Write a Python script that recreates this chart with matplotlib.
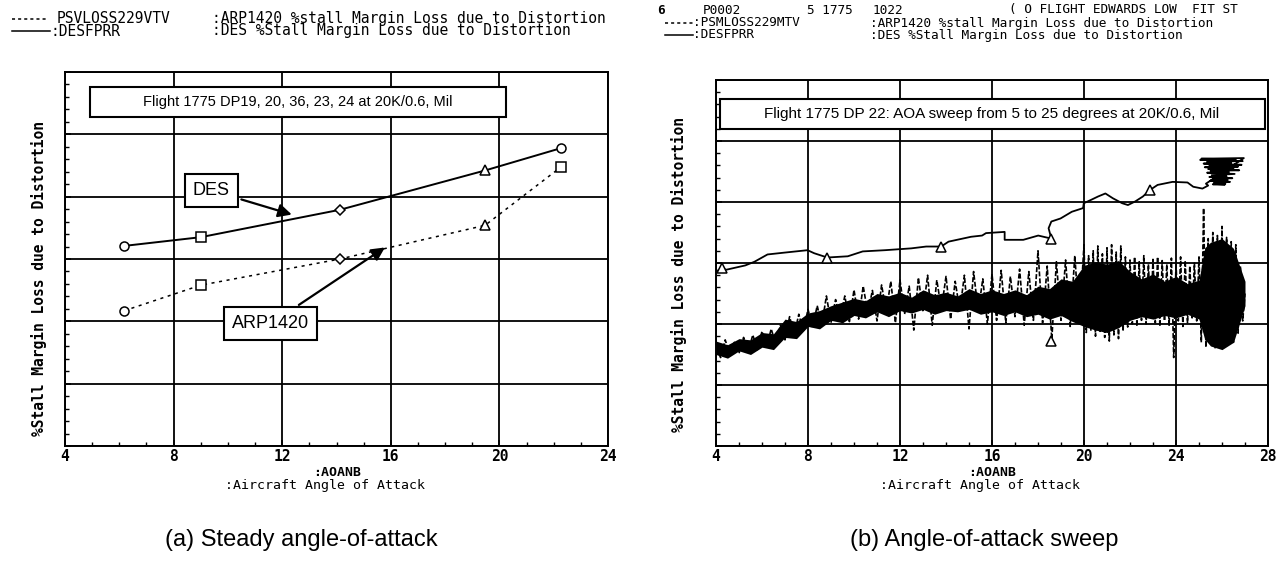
import matplotlib
matplotlib.use("Agg")
import matplotlib.pyplot as plt
from matplotlib.lines import Line2D
from matplotlib.patches import Rectangle
from matplotlib.ticker import MultipleLocator, NullFormatter

W, H = 1278, 561

# ---- (a) steady angle-of-attack points
aoa_steady = [6.18, 9.0, 14.13, 19.47, 22.28]
des_steady = [3.21, 3.35, 3.79, 4.42, 4.78]
arp_steady = [2.17, 2.58, 3.00, 3.54, 4.48]

# ---- (b) AOA sweep, DES trace (incl. the scribble at high AOA)
des_sweep_x = [4.0, 4.24, 4.45, 5.27, 5.67, 6.24, 6.97, 7.98, 8.27, 8.84,
               9.73, 10.38, 11.35, 12.49, 13.14, 13.79, 14.11, 15.09, 15.57, 15.74,
               16.55, 16.55, 17.36, 18.01, 18.58, 18.46, 18.58, 18.98, 19.47, 19.96,
               19.99, 20.28, 20.61, 20.93, 21.26, 21.66, 21.91, 22.23, 22.56, 22.88,
               23.2, 23.85, 24.5, 24.75, 25.15, 25.4,
               25.30, 26.95, 25.10, 26.60, 25.05, 26.90, 25.35, 26.40, 25.20, 26.85,
               25.45, 26.70, 25.25, 26.50, 25.40, 26.75, 25.50, 26.30, 25.35, 26.55,
               25.55, 26.20, 25.45, 26.45, 25.60, 26.25, 25.50, 26.35, 25.65, 26.15,
               25.60, 26.10]
des_sweep_y = [2.86, 2.91, 2.89, 2.96, 3.02, 3.14, 3.17, 3.21, 3.16, 3.09,
               3.11, 3.19, 3.21, 3.24, 3.27, 3.27, 3.35, 3.43, 3.45, 3.49,
               3.51, 3.38, 3.38, 3.45, 3.40, 3.57, 3.68, 3.73, 3.84, 3.90,
               3.98, 4.03, 4.09, 4.14, 4.06, 3.98, 3.95, 4.01, 4.09, 4.20,
               4.28, 4.33, 4.32, 4.25, 4.22, 4.27,
               4.30, 4.72, 4.71, 4.70, 4.69, 4.67, 4.66, 4.64, 4.63, 4.61,
               4.60, 4.58, 4.57, 4.55, 4.54, 4.52, 4.51, 4.49, 4.48, 4.46,
               4.44, 4.42, 4.41, 4.39, 4.38, 4.36, 4.35, 4.33, 4.32, 4.30,
               4.29, 4.28]
des_mark_x = [4.24, 8.84, 13.79, 18.58, 22.88]
des_mark_y = [2.91, 3.09, 3.27, 3.40, 4.20]

# ---- (b) AOA sweep, ARP1420 trace: spikes ...
arp_sweep_x = [4.0, 4.2, 4.4, 4.6, 4.8, 5.0, 5.2, 5.4, 5.6, 5.8,
               6.0, 6.2, 6.4, 6.6, 6.8, 7.0, 7.2, 7.4, 7.6, 7.8,
               8.0, 8.2, 8.4, 8.6, 8.8, 9.0, 9.2, 9.4, 9.6, 9.8,
               10.0, 10.2, 10.4, 10.6, 10.8, 11.0, 11.2, 11.4, 11.6, 11.8,
               12.0, 12.2, 12.4, 12.6, 12.8, 13.0, 13.2, 13.4, 13.6, 13.8,
               14.0, 14.2, 14.4, 14.6, 14.8, 15.0, 15.2, 15.4, 15.6, 15.8,
               16.0, 16.2, 16.4, 16.6, 16.8, 17.0, 17.2, 17.4, 17.6, 17.8,
               18.0, 18.2, 18.4, 18.6, 18.8, 19.0, 19.2, 19.4, 19.6, 19.8,
               20.0, 20.1, 20.2, 20.3, 20.4, 20.5, 20.6, 20.7, 20.8, 20.9,
               21.0, 21.1, 21.2, 21.3, 21.4, 21.5, 21.6, 21.7, 21.8, 21.9,
               22.0, 22.1, 22.2, 22.3, 22.4, 22.5, 22.6, 22.7, 22.8, 22.9,
               23.0, 23.1, 23.2, 23.3, 23.4, 23.5, 23.6, 23.7, 23.8, 23.9,
               24.0, 24.1, 24.2, 24.3, 24.4, 24.5, 24.6, 24.7, 24.8, 24.9,
               25.0, 25.1, 25.2, 25.3, 25.4, 25.5, 25.6, 25.7, 25.8, 25.9,
               26.0, 26.1, 26.2, 26.3, 26.4, 26.5, 26.6, 26.7, 26.8, 26.9,
               27.0]
arp_sweep_y = [1.62, 1.45, 1.74, 1.50, 1.70, 1.52, 1.78, 1.55, 1.82, 1.58,
               1.88, 1.62, 1.92, 1.66, 1.98, 1.74, 2.12, 1.82, 2.16, 1.88,
               2.24, 1.94, 2.30, 1.98, 2.46, 2.02, 2.40, 2.08, 2.46, 2.04,
               2.56, 2.08, 2.62, 2.18, 2.55, 2.05, 2.64, 2.20, 2.70, 2.02,
               2.72, 2.16, 2.62, 1.90, 2.76, 2.20, 2.80, 1.98, 2.72, 2.24,
               2.78, 2.08, 2.70, 2.22, 2.80, 1.92, 2.86, 2.20, 2.74, 2.00,
               2.82, 2.06, 2.88, 2.02, 2.78, 2.12, 2.90, 1.98, 2.86, 2.06,
               3.20, 2.02, 2.95, 1.75, 3.02, 2.06, 3.05, 1.96, 3.12, 2.02,
               3.30, 1.86, 3.12, 1.90, 3.20, 1.80, 3.28, 1.88, 3.15, 1.78,
               3.25, 1.72, 3.30, 1.82, 3.18, 1.76, 3.28, 1.88, 3.10, 1.95,
               3.05, 2.00, 3.10, 1.96, 3.02, 2.06, 3.12, 2.00, 2.98, 2.08,
               3.06, 2.02, 3.10, 1.96, 3.04, 2.05, 2.98, 1.98, 3.08, 1.45,
               3.00, 2.05, 3.10, 1.96, 3.04, 2.02, 2.95, 2.10, 3.00, 2.05,
               3.10, 1.70, 3.90, 1.62, 3.40, 1.72, 3.50, 1.60, 3.45, 1.68,
               3.60, 1.65, 3.42, 1.75, 3.35, 1.70, 3.30, 1.85, 2.95, 2.05,
               2.50]
# ... and the dense core of the ARP1420 noise band (ragged edges)
arp_core_x = [4.0, 4.5, 5.0, 5.5, 6.0, 6.5, 7.0, 7.5, 8.0, 8.5,
              9.0, 9.5, 10.0, 10.5, 11.0, 11.5, 12.0, 12.5, 13.0, 13.5,
              14.0, 14.5, 15.0, 15.5, 16.0, 16.5, 17.0, 17.5, 18.0, 18.5,
              19.0, 19.5, 20.0, 20.5, 21.0, 21.5, 22.0, 22.5, 23.0, 23.5,
              24.0, 24.5, 25.0, 25.25, 25.5, 26.0, 26.5, 27.0]
arp_core_lo = [1.50, 1.44, 1.56, 1.50, 1.62, 1.58, 1.78, 1.76, 1.96, 1.92,
               2.06, 2.02, 2.14, 2.10, 2.20, 2.12, 2.22, 2.18, 2.24, 2.16,
               2.22, 2.20, 2.24, 2.16, 2.20, 2.14, 2.20, 2.12, 2.16, 2.08,
               2.14, 2.04, 1.96, 1.90, 1.86, 1.94, 2.06, 2.12, 2.08, 2.14,
               2.10, 2.16, 2.08, 1.75, 1.64, 1.58, 1.70, 2.30]
arp_core_hi = [1.72, 1.66, 1.76, 1.74, 1.86, 1.84, 2.08, 2.04, 2.18, 2.22,
               2.30, 2.36, 2.42, 2.38, 2.50, 2.46, 2.52, 2.44, 2.56, 2.48,
               2.52, 2.46, 2.58, 2.50, 2.56, 2.50, 2.56, 2.48, 2.62, 2.58,
               2.74, 2.70, 2.96, 3.02, 2.98, 3.04, 2.86, 2.74, 2.82, 2.70,
               2.78, 2.66, 2.72, 3.25, 3.34, 3.40, 3.24, 2.70]
arp_mark_x = [18.55]
arp_mark_y = [1.72]

MONO = "DejaVu Sans Mono"
SANS = "Liberation Sans"


def px_to_fig(x, y):
    return x / W, 1 - y / H


def style_axes(ax, xmin, xmax):
    ax.set_xlim(xmin, xmax)
    ax.set_ylim(0, 6)
    ax.set_xticks(range(xmin, xmax + 1, 4))
    ax.set_yticks(range(0, 7))
    ax.yaxis.set_major_formatter(NullFormatter())
    ax.xaxis.set_minor_locator(MultipleLocator(1))
    ax.yaxis.set_minor_locator(MultipleLocator(0.2))
    ax.tick_params(which="major", direction="in", length=4, width=1.2)
    ax.tick_params(which="minor", direction="in", length=3, width=1)
    ax.tick_params(axis="x", labelsize=10.5, pad=2)
    for lab in ax.get_xticklabels():
        lab.set_fontfamily(MONO)
        lab.set_fontweight("bold")
    ax.grid(True, which="major", color="black", lw=1.3)
    for sp in ax.spines.values():
        sp.set_linewidth(1.4)
    ax.set_axisbelow(True)


fig = plt.figure(figsize=(W / 100, H / 100), dpi=100)

# ---------------- left panel
ax1 = fig.add_axes([65 / W, 1 - 446 / H, 543 / W, 374 / H])
style_axes(ax1, 4, 24)
ax1.plot(aoa_steady, des_steady, color="black", lw=1.4)
ax1.plot(aoa_steady, arp_steady, color="black", lw=1.1, linestyle=(0, (2, 3)))
for x, y, m in zip(aoa_steady, des_steady, ["o", "s", "D", "^", "o"]):
    ax1.plot(x, y, marker=m, ms=5 if m == "D" else 6.5, mfc="white", mec="black", mew=1.1)
for x, y, m in zip(aoa_steady, arp_steady, ["o", "s", "D", "^", "s"]):
    ax1.plot(x, y, marker=m, ms=5 if m == "D" else 6.5, mfc="white", mec="black", mew=1.1)

ax1.add_patch(Rectangle((0.046, 0.88), 0.766, 0.08, transform=ax1.transAxes,
                        fc="white", ec="black", lw=1.5, zorder=5))
ax1.text(0.429, 0.92, "Flight 1775 DP19, 20, 36, 23, 24 at 20K/0.6, Mil",
         transform=ax1.transAxes, ha="center", va="center", fontsize=10.5,
         family=SANS, zorder=6)

arrow = dict(arrowstyle="-|>", color="black", lw=1.6, mutation_scale=20)
ax1.annotate("DES", xy=(12.45, 3.70), xytext=(9.39, 4.10), ha="center", va="center",
             fontsize=13, family=SANS, arrowprops=arrow, zorder=6,
             bbox=dict(boxstyle="square,pad=0.45", fc="white", ec="black", lw=1.5))
ax1.annotate("ARP1420", xy=(15.87, 3.21), xytext=(11.57, 1.96), ha="center", va="center",
             fontsize=13, family=SANS, arrowprops=arrow, zorder=6,
             bbox=dict(boxstyle="square,pad=0.45", fc="white", ec="black", lw=1.5))

# ---------------- right panel
ax2 = fig.add_axes([716 / W, 1 - 446 / H, 552 / W, 366 / H])
style_axes(ax2, 4, 28)
ax2.fill_between(arp_core_x, arp_core_lo, arp_core_hi, color="black", lw=0)
ax2.plot(arp_sweep_x, arp_sweep_y, color="black", lw=1.2, linestyle=(0, (3, 1.2)))
ax2.plot(des_sweep_x, des_sweep_y, color="black", lw=1.3)
ax2.plot(des_mark_x, des_mark_y, linestyle="none", marker="^", ms=7,
         mfc="white", mec="black", mew=1.1)
ax2.plot(arp_mark_x, arp_mark_y, linestyle="none", marker="^", ms=7,
         mfc="white", mec="black", mew=1.1)
ax2.add_patch(Rectangle((0.007, 0.866), 0.988, 0.082, transform=ax2.transAxes,
                        fc="white", ec="black", lw=1.5, zorder=5))
ax2.text(0.50, 0.907, "Flight 1775 DP 22: AOA sweep from 5 to 25 degrees at 20K/0.6, Mil",
         transform=ax2.transAxes, ha="center", va="center", fontsize=11,
         family=SANS, zorder=6)

# ---------------- axis labels (plotter style)
for cx, cy in [(39, 278), (679, 275)]:
    fx, fy = px_to_fig(cx, cy)
    fig.text(fx, fy, "%Stall Margin Loss due to Distortion", rotation=90,
             ha="center", va="center", fontsize=10.5, family=MONO, fontweight="bold")
for cx in [337, 992]:
    fx, fy = px_to_fig(cx, 472)
    fig.text(fx, fy, ":AOANB", ha="center", va="center", fontsize=9.5,
             family=MONO, fontweight="bold")
    fx, fy = px_to_fig(cx - 12, 486)
    fig.text(fx, fy, ":Aircraft Angle of Attack", ha="center", va="center",
             fontsize=9.5, family=MONO)


# ---------------- header (plot legend) texts
def header(x, y, s, size=10.5, weight="normal"):
    fx, fy = px_to_fig(x, y)
    fig.text(fx, fy, s, ha="left", va="center", fontsize=size, family=MONO,
             fontweight=weight)


def key_line(x0, x1, y, ls):
    f0 = px_to_fig(x0, y)
    f1 = px_to_fig(x1, y)
    fig.add_artist(Line2D([f0[0], f1[0]], [f0[1], f1[1]], color="black",
                          lw=1.1, linestyle=ls, transform=fig.transFigure))


key_line(12, 47, 18.5, (0, (2, 2)))
header(57, 18.5, "PSVLOSS229VTV")
header(212, 18.5, ":ARP1420 %stall Margin Loss due to Distortion")
key_line(12, 50, 31, "-")
header(50, 31, ":DESFPRR")
header(212, 31, ":DES %Stall Margin Loss due to Distortion")

hs = 9.2
header(657, 10, "6", hs, "bold")
header(703, 10, "P0002", hs)
header(807, 10, "5 1775", hs)
header(873, 10, "1022", hs)
header(1009, 10, "( O FLIGHT EDWARDS LOW  FIT ST", hs)
key_line(665, 693, 23, (0, (2, 2)))
header(693, 23, ":PSMLOSS229MTV", hs)
header(870, 23, ":ARP1420 %stall Margin Loss due to Distortion", hs)
key_line(665, 693, 35, "-")
header(693, 35, ":DESFPRR", hs)
header(870, 35, ":DES %Stall Margin Loss due to Distortion", hs)

# ---------------- captions
for cx, s in [(301, "(a) Steady angle-of-attack"), (984, "(b) Angle-of-attack sweep")]:
    fx, fy = px_to_fig(cx, 540)
    fig.text(fx, fy, s, ha="center", va="center", fontsize=17, family=SANS)

fig.savefig("out.png", dpi=100, facecolor="white")
